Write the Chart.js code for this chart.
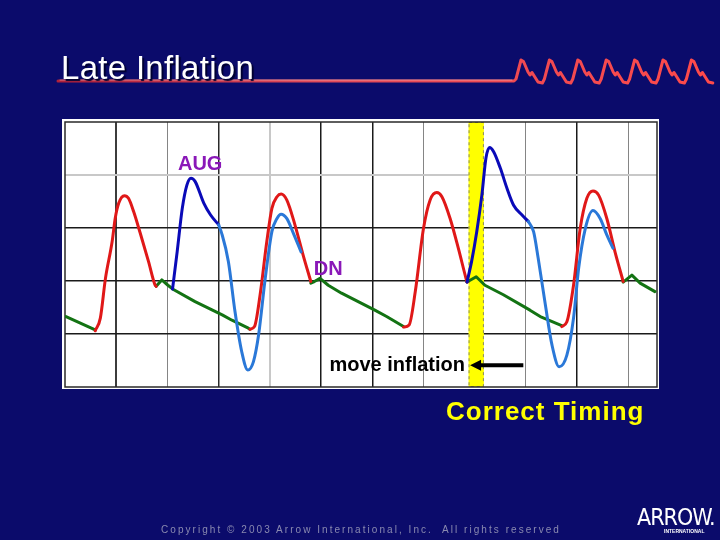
<!DOCTYPE html>
<html>
<head>
<meta charset="utf-8">
<script src="https://cdn.jsdelivr.net/npm/chart.js@4/dist/chart.umd.min.js"></script>
<style>
  html, body { margin:0; padding:0; }
  body { width:720px; height:540px; overflow:hidden; background:#0b0b6b; position:relative; font-family: Arial, "Liberation Sans", sans-serif; }
  #c { position:absolute; left:0; top:0; }
  .t { position:absolute; white-space:pre; line-height:1; }
  #title { left:61px; top:51px; font-size:33px; color:#fff; letter-spacing:0.3px; text-shadow:2px 2px 1px #000030; }
  #timing { left:446px; top:398px; font-size:26px; font-weight:bold; color:#ffff00; letter-spacing:1px; }
  #copy { left:161px; top:525px; font-size:10px; color:#8a8ab0; letter-spacing:2.05px; }
  #logo { left:637px; top:506px; font-size:23px; color:#fff; font-family:"Liberation Sans Narrow","DejaVu Sans Condensed",Arial,sans-serif; letter-spacing:-1px; }
  #logo2 { left:664px; top:529px; font-size:10px; font-weight:bold; color:#fff; transform:scale(0.5,0.55); transform-origin:left top; font-family:"Liberation Sans Narrow",Arial,sans-serif; }
</style>
</head>
<body>
<canvas id="c" width="720" height="540"></canvas>
<div class="t" id="title">Late Inflation</div>
<div class="t" id="timing">Correct Timing</div>
<div class="t" id="copy">Copyright © 2003 Arrow International, Inc.&nbsp; All rights reserved</div>
<div class="t" id="logo">ARROW.</div>
<div class="t" id="logo2">INTERNATIONAL</div>
<script>
// ---- grid ticks (grid units) ----
const xGridTicks = [1,2,3,4,5,6,7,8,9,10,11];
const yGridTicks = [1,2,3,4];

// ---- series (x in grid units, y in grid units; null = break) ----
const greenX = [0.02,0.59, null, 1.78,1.89,2.01,2.10,2.54,3.07,3.26,3.58,3.61, null, 4.80,4.87,4.98,5.14,5.40,6.05,6.28,6.61, null, 7.85,8.03,8.20,8.56,9.08,9.28,9.70, null, 10.90,11.07,11.23,11.52];
const greenY = [1.33,1.08, null, 1.90,2.02,1.92,1.85,1.61,1.36,1.26,1.11,1.09, null, 1.96,1.99,2.05,1.92,1.77,1.45,1.33,1.14, null, 1.98,2.08,1.92,1.74,1.45,1.33,1.16, null, 1.98,2.11,1.96,1.80];

const redX = [0.59,0.69,0.79,0.92,0.98,1.05,1.16,1.24,1.34,1.47,1.63,1.76,1.78, null,
              3.61,3.70,3.81,3.94,4.04,4.14,4.22,4.33,4.49,4.65,4.80, null,
              6.61,6.72,6.84,7.00,7.13,7.26,7.36,7.52,7.68,7.83,7.85, null,
              9.70,9.80,9.93,10.06,10.19,10.31,10.42,10.58,10.74,10.90];
const redY = [1.06,1.30,2.05,2.74,3.18,3.47,3.61,3.56,3.31,2.90,2.37,1.92,1.90, null,
              1.09,1.14,1.74,2.74,3.37,3.59,3.64,3.53,3.06,2.49,1.99, null,
              1.13,1.17,1.80,2.99,3.53,3.67,3.59,3.18,2.62,2.05,1.98, null,
              1.14,1.23,1.92,2.99,3.56,3.70,3.62,3.18,2.55,1.99];

const augX = [2.10,2.19,2.29,2.38,2.46,2.54,2.71,2.84,3.00, null,
              7.85,7.94,8.04,8.14,8.22,8.29,8.37,8.50,8.63,8.76,8.92,9.05];
const augY = [1.85,2.55,3.37,3.81,3.94,3.88,3.47,3.25,3.06, null,
              1.98,2.37,2.93,3.62,4.32,4.52,4.44,4.13,3.75,3.43,3.25,3.12];

const deflX = [3.00,3.06,3.19,3.32,3.45,3.57,3.68,3.78,3.91,4.04,4.14,4.22,4.33,4.46,4.61, null,
               9.05,9.15,9.24,9.38,9.51,9.65,9.80,9.93,10.03,10.16,10.31,10.45,10.58,10.70];
const deflY = [3.06,2.90,2.37,1.42,0.67,0.32,0.48,0.98,2.05,2.93,3.18,3.26,3.18,2.90,2.55, null,
               3.12,2.93,2.43,1.55,0.79,0.38,0.60,1.30,2.24,2.99,3.33,3.18,2.87,2.62];

// ---- annotations (data coordinates) ----
const augLabel = {text:'AUG', x:2.64, y:4.09};
const dnLabel = {text:'DN', x:5.14, y:2.11};
const moveLabel = {text:'move inflation', x:7.81, y:0.30};
const arrowFromTo = [8.95, 7.91];
const arrowY = 0.41;
const bandRange = [7.88, 8.18];

// ---- styles ----
const xGridStyle = {1:['#3c3c3c',2],2:['#858585',1],3:['#2a2a2a',1.5],4:['#c8c8c8',2],5:['#1a1a1a',1.5],6:['#1a1a1a',1.5],7:['#858585',1],8:['#858585',1],9:['#858585',1],10:['#1a1a1a',1.5],11:['#858585',1]};
const yGridStyle = {1:['#1a1a1a',1.5],2:['#1a1a1a',1.5],3:['#1a1a1a',1.5],4:['#c8c8c8',2]};

function pts(xs, ys){ return xs.map((x,i)=>({x:x, y:ys[i]})); }

const decor = {
  id:'decor',
  beforeDraw(chart){
    const {ctx, chartArea:a} = chart;
    ctx.save();
    ctx.fillStyle = '#ffffff';
    ctx.fillRect(a.left-3, a.top-3, a.right-a.left+5, a.bottom-a.top+5);
    ctx.restore();
  },
  beforeDatasetsDraw(chart){
    const {ctx, chartArea:a, scales:{x}} = chart;
    ctx.save();
    const x0 = x.getPixelForValue(bandRange[0]), x1 = x.getPixelForValue(bandRange[1]);
    ctx.fillStyle = '#ffff00';
    ctx.fillRect(x0, a.top, x1-x0, a.bottom-a.top);
    ctx.setLineDash([3,3]);
    ctx.strokeStyle = '#8a8a60';
    ctx.lineWidth = 1;
    ctx.strokeRect(x0+0.5, a.top+0.5, x1-x0-1, a.bottom-a.top-1);
    ctx.setLineDash([]);
    ctx.strokeStyle = '#2a2a2a';
    ctx.lineWidth = 1.5;
    ctx.strokeRect(a.left, a.top, a.right-a.left, a.bottom-a.top);
    ctx.restore();
  },
  afterDatasetsDraw(chart){
    const {ctx, scales:{x,y}} = chart;
    ctx.save();
    ctx.font = 'bold 20px Arial, "Liberation Sans", sans-serif';
    ctx.fillStyle = '#8a18b8';
    ctx.textBaseline = 'alphabetic';
    ctx.textAlign = 'center';
    ctx.fillText(augLabel.text, x.getPixelForValue(augLabel.x), y.getPixelForValue(augLabel.y));
    ctx.fillText(dnLabel.text, x.getPixelForValue(dnLabel.x), y.getPixelForValue(dnLabel.y));
    ctx.fillStyle = '#000000';
    ctx.textAlign = 'right';
    ctx.fillText(moveLabel.text, x.getPixelForValue(moveLabel.x), y.getPixelForValue(moveLabel.y));
    // arrow
    const ax0 = x.getPixelForValue(arrowFromTo[0]), ax1 = x.getPixelForValue(arrowFromTo[1]);
    const ay = y.getPixelForValue(arrowY);
    ctx.strokeStyle = '#000'; ctx.lineWidth = 4;
    ctx.beginPath(); ctx.moveTo(ax0, ay); ctx.lineTo(ax1+8, ay); ctx.stroke();
    ctx.fillStyle = '#000';
    ctx.beginPath(); ctx.moveTo(ax1, ay); ctx.lineTo(ax1+11, ay-5.5); ctx.lineTo(ax1+11, ay+5.5); ctx.closePath(); ctx.fill();
    ctx.restore();
  },
  afterDraw(chart){
    const ctx = chart.ctx;
    ctx.save();
    const g = ctx.createLinearGradient(58,0,715,0);
    g.addColorStop(0,'#b0203a'); g.addColorStop(0.4,'#e04a5a'); g.addColorStop(1,'#ff4a4a');
    ctx.strokeStyle = g; ctx.lineWidth = 3; ctx.lineJoin='round'; ctx.lineCap='round';
    ctx.beginPath();
    ctx.moveTo(58,81); ctx.lineTo(514,81);
    const w = 28.4;
    for (let k=0;k<7;k++){
      const b = 514 + k*w;
      ctx.lineTo(b+2,79); ctx.lineTo(b+7,60); ctx.lineTo(b+9.5,61.5); ctx.lineTo(b+14,72);
      ctx.lineTo(b+16,75); ctx.lineTo(b+18,72.5); ctx.lineTo(b+24,82); ctx.lineTo(b+w,83);
    }
    ctx.stroke();
    ctx.strokeStyle = 'rgba(255,200,200,0.55)'; ctx.lineWidth = 1;
    ctx.beginPath(); ctx.moveTo(60,80); ctx.lineTo(512,80); ctx.stroke();
    ctx.restore();
  }
};

const lineBase = {pointRadius:0, borderWidth:3, borderCapStyle:'round', borderJoinStyle:'round', fill:false, spanGaps:false};

new Chart(document.getElementById('c'), {
  type:'line',
  data:{
    datasets:[
      Object.assign({label:'diastole', data:pts(greenX, greenY), borderColor:'#137313', tension:0, order:4}, lineBase),
      Object.assign({label:'unassisted', data:pts(redX, redY), borderColor:'#e01818', cubicInterpolationMode:'monotone', order:3}, lineBase),
      Object.assign({label:'augmentation', data:pts(augX, augY), borderColor:'#0a0ab8', cubicInterpolationMode:'monotone', order:2}, lineBase),
      Object.assign({label:'deflation', data:pts(deflX, deflY), borderColor:'#2a78d8', cubicInterpolationMode:'monotone', order:1}, lineBase)
    ]
  },
  options:{
    responsive:false,
    animation:false,
    devicePixelRatio:1,
    layout:{padding:{left:65, top:122, right:63, bottom:153}},
    plugins:{legend:{display:false}, tooltip:{enabled:false}},
    scales:{
      x:{type:'linear', min:0, max:11.56,
         afterBuildTicks:s=>{ s.ticks = xGridTicks.map(v=>({value:v})); },
         ticks:{display:false},
         border:{display:false},
         grid:{drawTicks:false,
               color:c=>(xGridStyle[c.tick && c.tick.value]||['#858585',1])[0],
               lineWidth:c=>(xGridStyle[c.tick && c.tick.value]||['#858585',1])[1]}},
      y:{type:'linear', min:0, max:5,
         afterBuildTicks:s=>{ s.ticks = yGridTicks.map(v=>({value:v})); },
         ticks:{display:false},
         border:{display:false},
         grid:{drawTicks:false,
               color:c=>(yGridStyle[c.tick && c.tick.value]||['#1a1a1a',1.5])[0],
               lineWidth:c=>(yGridStyle[c.tick && c.tick.value]||['#1a1a1a',1.5])[1]}}
    }
  },
  plugins:[decor]
});
</script>
</body>
</html>
